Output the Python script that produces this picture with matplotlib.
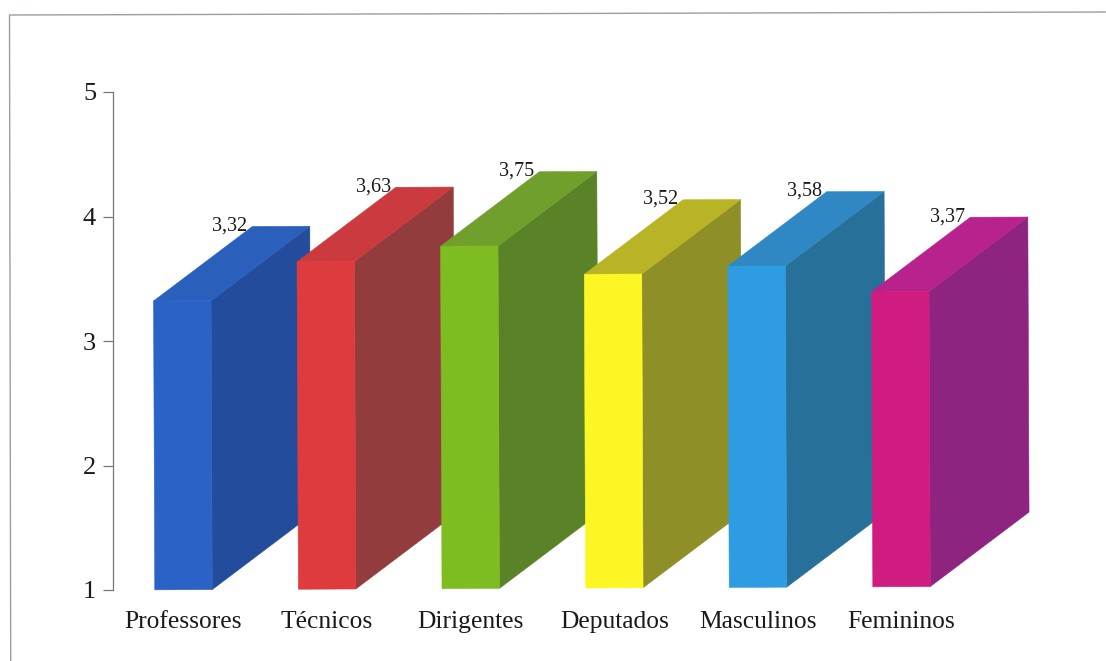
"""
    Barras em falsa perspectiva por grupo
"""

import matplotlib
matplotlib.use("Agg")
import matplotlib.pyplot as plt
from matplotlib.lines import Line2D
from matplotlib.patches import Polygon
from matplotlib.transforms import Affine2D

categories = ["Professores", "Técnicos", "Dirigentes", "Deputados", "Masculinos", "Femininos"]
values = [3.32, 3.63, 3.75, 3.52, 3.58, 3.37]
y_ticks = [1, 2, 3, 4, 5]

front_colors = ["#2a62c6", "#dd3b3e", "#7dbd21", "#fdf625", "#2e9ce2", "#d01c80"]
side_colors = ["#234d9c", "#933c3d", "#5a8226", "#8f8f28", "#26709a", "#8f2480"]
top_colors = ["#2b5fbc", "#cb3a3e", "#70a02b", "#b8b425", "#2f88c4", "#b7228c"]

WIDTH = 0.4
DEPTH_X = 0.69
DEPTH_Y = 0.595

W, H = 1106, 661
plt.rcParams["font.family"] = ["Liberation Serif", "DejaVu Serif"]
fig = plt.figure(figsize=(W / 100, H / 100), dpi=100)
ax = fig.add_axes([113 / W, (H - 590) / H, 927 / W, 498 / H])
ax.set_xlim(-0.491, 5.964)
ax.set_ylim(1, 5)

# a digitalizacao esta um pouco torta
tilt = Affine2D().rotate_deg_around(113, H - 590, 0.24)
trans = ax.transData + tilt


def face(points, color, z):
    ax.add_patch(Polygon(points, facecolor=color, edgecolor=color, lw=0.4, transform=trans, clip_on=False, zorder=z))


for i, value in enumerate(values):
    x0 = i - WIDTH / 2
    x1 = i + WIDTH / 2
    z = 2 + i
    face([(x1, 1), (x1 + DEPTH_X, 1 + DEPTH_Y), (x1 + DEPTH_X, value + DEPTH_Y), (x1, value)], side_colors[i], z)
    face([(x0, value), (x1, value), (x1 + DEPTH_X, value + DEPTH_Y), (x0 + DEPTH_X, value + DEPTH_Y)], top_colors[i], z)
    face([(x0, 1), (x1, 1), (x1, value), (x0, value)], front_colors[i], z)
    ax.annotate(str(value).replace(".", ","), xy=(x0, value), xycoords=trans, xytext=(55, 54),
                textcoords="offset points", ha="center", va="center", fontsize=14.5, color="#1a1a1a", zorder=20)

for name in ["top", "right", "bottom"]:
    ax.spines[name].set_visible(False)
ax.spines["left"].set_color("#777777")
ax.spines["left"].set_linewidth(0.9)

ax.set_yticks(y_ticks)
ax.tick_params(axis="y", length=7.2, width=0.9, color="#777777", pad=5, labelsize=19, labelcolor="#1a1a1a")
ax.set_xticks(range(len(categories)))
ax.set_xticklabels(categories)
ax.tick_params(axis="x", length=0, pad=15, labelsize=18.4, labelcolor="#1a1a1a")

# moldura, so esquerda e topo aparecem
fig.add_artist(Line2D([10.7 / W, 9.5 / W, 1 / 1], [0, (H - 15) / H, (H - 12) / H], color="#9a9e9e", lw=1.0))

plt.savefig("out.png", dpi=100)
